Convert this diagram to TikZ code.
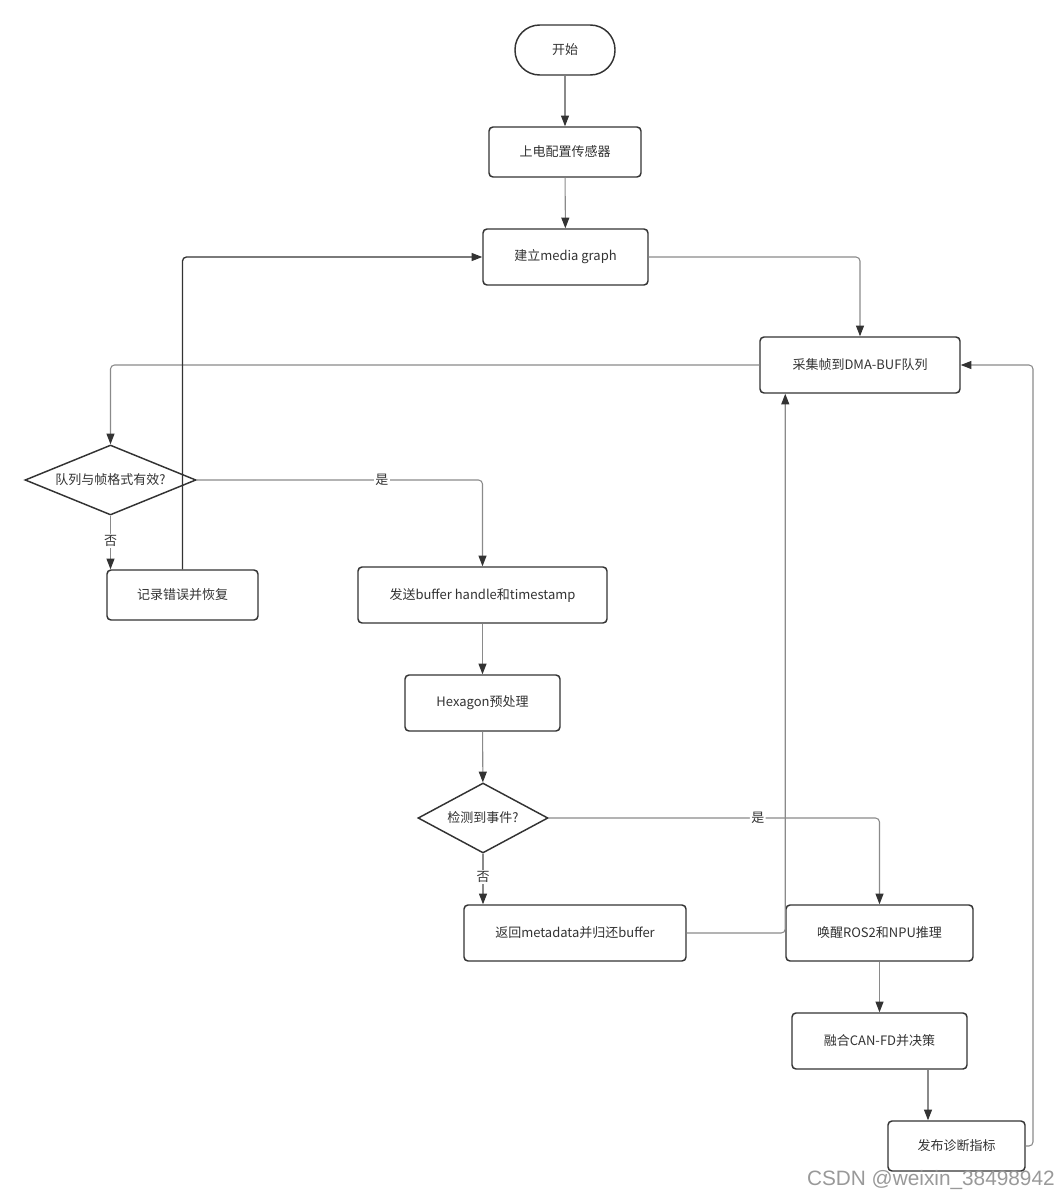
\documentclass[tikz,border=0pt]{standalone}
\usepackage{fontspec}
\setmainfont{Noto Sans CJK SC}
\newfontfamily\wmfont{Liberation Sans}
\usetikzlibrary{arrows.meta,shapes.geometric,calc}
\definecolor{nodec}{HTML}{333333}
\definecolor{edgec}{HTML}{8A8A8A}
\definecolor{tipc}{HTML}{333333}
\definecolor{txtc}{HTML}{333333}
\tikzset{
  box/.style={draw=nodec, line width=1.1pt, rounded corners=3pt, inner sep=0pt,
    font=\fontsize{9.75}{12}\selectfont, text=txtc, fill=white},
  term/.style={box, rounded corners=18.5pt},
  dec/.style={draw=nodec, line width=1.1pt, shape=diamond, inner sep=0pt, fill=white},
  dtext/.style={font=\fontsize{9.75}{12}\selectfont, text=txtc},
  edge/.style={draw=edgec, line width=0.8pt, rounded corners=3pt,
    -{Triangle[length=8pt,width=6pt,color=tipc]}},
  darkedge/.style={edge, draw=nodec, line width=1pt},
  lbl/.style={fill=white, inner sep=1pt, font=\fontsize{9.75}{12}\selectfont, text=txtc},
}
\begin{document}
\begin{tikzpicture}[x=0.75pt,y=-0.75pt]
\useasboundingbox (0,0) rectangle (1058,1196);
% nodes
\node[term, minimum width=75pt, minimum height=37.5pt] (s) at (565,50) {开始};
\node[box, minimum width=114pt, minimum height=37.5pt] (b2) at (565,152) {上电配置传感器};
\node[box, minimum width=123.75pt, minimum height=42pt] (b3) at (565.5,257) {建立media graph};
\node[box, minimum width=150pt, minimum height=42pt] (b4) at (860,365) {采集帧到DMA-BUF队列};
\node[dec, minimum width=128.25pt, minimum height=52.5pt,
      label={[dtext]center:队列与帧格式有效?}] (d1) at (110.5,480) {};
\node[box, minimum width=113.25pt, minimum height=37.5pt] (r1) at (182.5,595) {记录错误并恢复};
\node[box, minimum width=186.75pt, minimum height=42pt] (sd) at (482.5,595) {发送buffer handle和timestamp};
\node[box, minimum width=116.25pt, minimum height=42pt] (hx) at (482.5,703) {Hexagon预处理};
\node[dec, minimum width=97.5pt, minimum height=52.5pt,
      label={[dtext]center:检测到事件?}] (d2) at (483,818) {};
\node[box, minimum width=166.5pt, minimum height=42pt] (r2) at (575,933) {返回metadata并归还buffer};
\node[box, minimum width=140.25pt, minimum height=42pt] (w1) at (879.5,933) {唤醒ROS2和NPU推理};
\node[box, minimum width=131.25pt, minimum height=42pt] (f1) at (879.5,1041) {融合CAN-FD并决策};
\node[box, minimum width=102.75pt, minimum height=37.5pt] (p1) at (956.5,1146) {发布诊断指标};
\coordinate (fx) at (928,0);
\coordinate (rx) at (1033,0);
% edges
\draw[edge] (s) -- (b2);
\draw[edge] (b2) -- (b3);
\draw[edge] (b3.east) -| (b4.north);
\draw[edge] (b4.west) -| (d1.north);
\draw[edge] (d1.east) -| node[lbl, pos=0.324] {是} (sd.north);
\draw[edge] (d1.south) -- node[lbl, pos=0.47] {否} (d1.south |- r1.north);
\draw[darkedge] (r1.north) |- (b3.west);
\draw[edge] (sd) -- (hx);
\draw[edge] (hx) -- (d2);
\draw[edge] (d2.east) -| node[lbl, pos=0.316] {是} (w1.north);
\draw[edge] (d2.south) -- node[lbl, pos=0.46] {否} (d2.south |- r2.north);
\draw[edge] (r2.east) -| (w1.west |- b4.south);
\draw[edge] (w1) -- (f1);
\draw[edge] (f1.south -| fx) -- (p1.north -| fx);
\draw[edge] (p1.east) -| (rx |- b4.east) -- (b4.east);
% watermark
\node[anchor=east, inner sep=0pt, text=black!40, font=\wmfont\fontsize{15.6}{18}\selectfont] (wm) at (1055,1180) {CSDN @weixin\_38498942};
\end{tikzpicture}
\end{document}
